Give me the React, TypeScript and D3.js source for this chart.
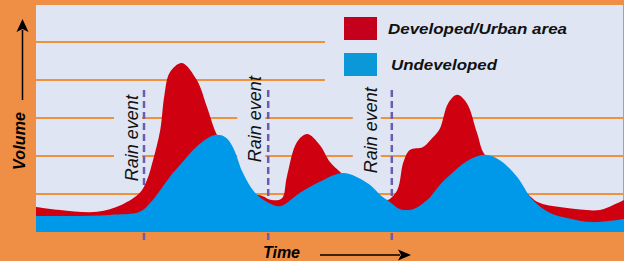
import React, { useEffect, useRef } from "react";
import * as d3 from "d3";

// time (hours) / volume readings
const developed: [number, number][] = [
  [0, 0.66], [4, 0.58], [10.2, 0.53], [14.2, 0.71], [17.3, 1.03], [18.5, 1.37],
  [19.5, 1.89], [20.7, 2.68], [21.4, 3.6], [22.3, 4.2], [24.3, 4.45], [26.8, 4.0],
  [28.5, 3.29], [29.8, 2.68], [31, 2.29], [33.2, 1.42], [35.7, 1.03], [37.7, 0.95],
  [39.3, 0.84], [41, 0.89], [41.8, 1.45], [43.5, 2.37], [45.2, 2.58], [47.3, 2.29],
  [49, 1.84], [50.7, 1.58], [53.2, 1.24], [56.5, 0.95], [58.5, 0.84], [60.2, 1.1],
  [61.2, 1.82], [62.3, 2.16], [64.5, 2.24], [66.2, 2.5], [67.3, 2.72], [68.7, 3.39],
  [70.2, 3.61], [71.8, 3.39], [73.5, 2.61], [74.8, 2.03], [79, 1.5], [82.3, 0.95],
  [84, 0.76], [88.5, 0.63], [94, 0.58], [96.2, 0.71], [98, 0.84],
];

const undeveloped: [number, number][] = [
  [0, 0.42], [5.7, 0.42], [12.3, 0.45], [17.3, 0.53], [19, 0.76], [20.7, 1.1],
  [22.3, 1.45], [24, 1.76], [26.8, 2.25], [29.8, 2.55], [31.5, 2.5], [32.8, 2.24],
  [34.5, 1.55], [36.5, 1.03], [38.5, 0.79], [40.7, 0.68], [44, 1.03], [47.3, 1.32],
  [51.2, 1.55], [55.2, 1.29], [57.8, 0.92], [59, 0.79], [60.7, 0.6], [62.8, 0.6],
  [65.2, 0.84], [67.3, 1.24], [69, 1.5], [71.8, 1.86], [74.8, 2.03], [77.3, 1.89],
  [80.2, 1.45], [82.8, 0.84], [85.7, 0.5], [88.5, 0.37], [92.8, 0.26], [98, 0.34],
];

const rainEvents = [18, 38.7, 59.3];
const gridLevels = [1, 2, 3, 4, 5];
const legendLabels = ["Developed/Urban area", "Undeveloped"];

const ORANGE = "#ef8f45";
const RED = "#cf000f";
const BLUE = "#0099ea";

function App() {
  const svgRef = useRef<SVGSVGElement>(null);
  const width = 624;
  const height = 261;

  useEffect(() => {
    document.body.style.margin = "0";
    const svg = d3.select(svgRef.current);
    svg.selectAll("*").remove();

    const x = d3.scaleLinear().domain([0, 98]).range([36, 624]);
    const y = d3.scaleLinear().domain([0, 6]).range([232, 4]);
    const font = "'Liberation Sans', Arial, sans-serif";

    svg.append("rect").attr("width", width).attr("height", height).attr("fill", ORANGE);
    svg
      .append("rect")
      .attr("x", 36)
      .attr("y", 5)
      .attr("width", 587)
      .attr("height", 227)
      .attr("fill", "#dfe5f3");

    // label placement: offset of text baseline from the dashed line, and centre volume
    const labelShift = [-6, -7, -15];
    const labelV = [2.47, 2.97, 2.68];
    const labelX = rainEvents.map((t, i) => x(t) + labelShift[i]);

    // grid lines, short ones stop before the legend, mid ones break at the labels
    gridLevels.forEach((v) => {
      let segs: [number, number][] = [[x(0), 624]];
      if (v >= 4) segs = [[x(0), 325]];
      else if (v >= 2) {
        segs = [];
        let start = x(0);
        labelX.forEach((lx) => {
          segs.push([start, lx - 24]);
          start = lx + 4;
        });
        segs.push([start, 624]);
      }
      segs.forEach(([a, b]) => {
        svg
          .append("line")
          .attr("x1", a)
          .attr("x2", b)
          .attr("y1", y(v))
          .attr("y2", y(v))
          .attr("stroke", "#f0913c")
          .attr("stroke-width", 2);
      });
    });

    // rain event markers
    svg
      .selectAll(".rain")
      .data(rainEvents)
      .join("line")
      .attr("x1", (d) => x(d))
      .attr("x2", (d) => x(d))
      .attr("y1", 90)
      .attr("y2", 243)
      .attr("stroke", "#6b5cb0")
      .attr("stroke-width", 2.5)
      .attr("stroke-dasharray", "7,4");

    const area = d3
      .area<[number, number]>()
      .x((d) => x(d[0]))
      .y0(y(0))
      .y1((d) => y(d[1]))
      .curve(d3.curveCatmullRom.alpha(0.5));

    svg.append("path").datum(developed).attr("fill", RED).attr("d", area);
    svg.append("path").datum(undeveloped).attr("fill", BLUE).attr("d", area);

    svg
      .selectAll(".rainlabel")
      .data(rainEvents)
      .join("text")
      .attr("transform", (d, i) => `translate(${labelX[i]},${y(labelV[i])}) rotate(-90)`)
      .attr("text-anchor", "middle")
      .attr("font-family", font)
      .attr("font-style", "italic")
      .attr("font-size", 18)
      .attr("fill", "#111")
      .text("Rain event");

    // legend
    const legendColors = ["#c4001c", "#0a98d8"];
    const legendWidths = [179, 106];
    legendLabels.forEach((label, i) => {
      const top = 17 + i * 36;
      svg
        .append("rect")
        .attr("x", 344)
        .attr("y", top)
        .attr("width", 33)
        .attr("height", 23)
        .attr("fill", legendColors[i]);
      svg
        .append("text")
        .attr("x", 388 + i * 3)
        .attr("y", top + 17)
        .attr("font-family", font)
        .attr("font-style", "italic")
        .attr("font-weight", "bold")
        .attr("font-size", 15.5)
        .attr("textLength", legendWidths[i])
        .attr("lengthAdjust", "spacingAndGlyphs")
        .attr("fill", "#111")
        .text(label);
    });

    // axis titles with arrows
    svg
      .append("text")
      .attr("transform", "translate(25,141) rotate(-90)")
      .attr("text-anchor", "middle")
      .attr("font-family", font)
      .attr("font-style", "italic")
      .attr("font-weight", "bold")
      .attr("font-size", 16)
      .attr("textLength", 58)
      .attr("fill", "#000")
      .text("Volume");
    svg
      .append("line")
      .attr("x1", 22.5)
      .attr("x2", 22.5)
      .attr("y1", 100)
      .attr("y2", 30)
      .attr("stroke", "#000")
      .attr("stroke-width", 1.5);
    svg.append("path").attr("d", "M22.5,19 L16.5,32 L22.5,29 L28.5,32 Z").attr("fill", "#000");

    svg
      .append("text")
      .attr("x", 263)
      .attr("y", 258)
      .attr("font-family", font)
      .attr("font-style", "italic")
      .attr("font-weight", "bold")
      .attr("font-size", 16)
      .attr("textLength", 37)
      .attr("fill", "#000")
      .text("Time");
    svg
      .append("line")
      .attr("x1", 320)
      .attr("x2", 400)
      .attr("y1", 255)
      .attr("y2", 255)
      .attr("stroke", "#000")
      .attr("stroke-width", 1.5);
    svg.append("path").attr("d", "M411,255 L398,249.5 L401,255 L398,260.5 Z").attr("fill", "#000");
  }, []);

  return (
    <div style={{ position: "absolute", left: 0, top: 0 }}>
      <svg ref={svgRef} width={width} height={height} style={{ display: "block" }}></svg>
    </div>
  );
}

export default App;
